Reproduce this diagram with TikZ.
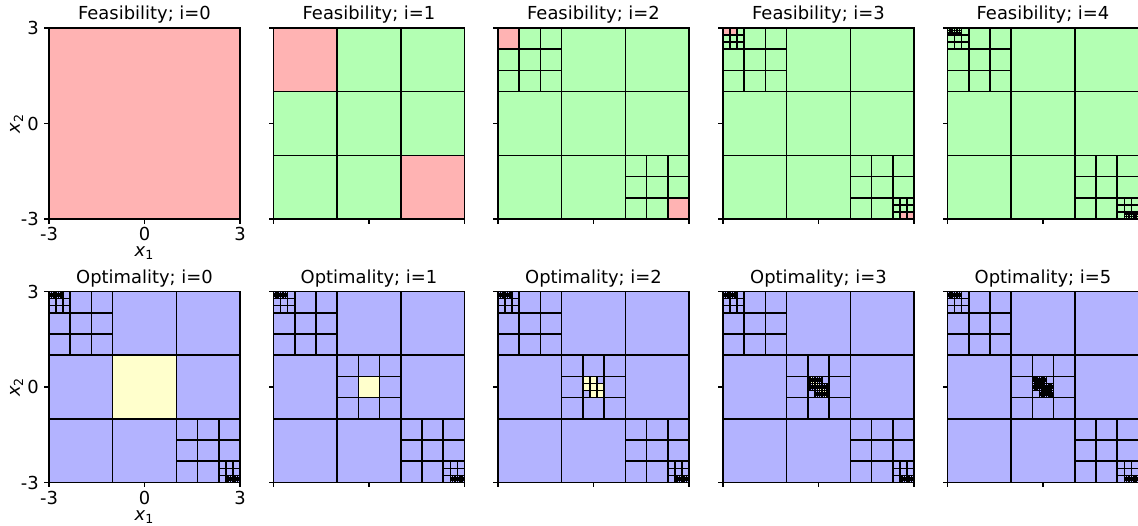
\documentclass[tikz,border=0pt]{standalone}
\usepackage{fontspec}
\setmainfont{DejaVu Sans}
\usepackage{tikz}

\definecolor{infeas}{HTML}{FFB3B3}
\definecolor{feas}{HTML}{B3FFB3}
\definecolor{subopt}{HTML}{B3B3FF}
\definecolor{cand}{HTML}{FFFFCC}

% cell of level #1 (6/3^#1 wide) at column #2, row #3
\newcommand{\cellfill}[4]{%
  \pgfmathsetmacro{\cellw}{6/3^#1}%
  \fill[#4] ({-3+#2*\cellw},{-3+#3*\cellw}) rectangle ++(\cellw,\cellw);}
\newcommand{\cellsplit}[3]{%
  \pgfmathsetmacro{\cellw}{6/3^#1}%
  \pgfmathsetmacro{\cellx}{-3+#2*\cellw}%
  \pgfmathsetmacro{\celly}{-3+#3*\cellw}%
  \draw[gridline] ({\cellx+\cellw/3},\celly) -- ++(0,\cellw)
    ({\cellx+2*\cellw/3},\celly) -- ++(0,\cellw)
    (\cellx,{\celly+\cellw/3}) -- ++(\cellw,0)
    (\cellx,{\celly+2*\cellw/3}) -- ++(\cellw,0);}
% refinement of the two infeasible corners
\newcommand{\cornersplits}[1]{%
  \ifnum#1>0 \cellsplit{0}{0}{0}\fi
  \ifnum#1>1 \cellsplit{1}{0}{2}\cellsplit{1}{2}{0}\fi
  \ifnum#1>2 \cellsplit{2}{0}{8}\cellsplit{2}{8}{0}\fi
  \ifnum#1>3 \cellsplit{3}{0}{26}\cellsplit{3}{1}{26}\cellsplit{3}{25}{0}\cellsplit{3}{26}{0}\fi}
% level-4 cells along x1+x2=0 round the centre
\newcommand{\bandloop}[1]{%
  \foreach \dd in {-4,...,4}{\foreach \ee in {-1,0,1}{%
    \pgfmathtruncatemacro{\bi}{40+\dd}\pgfmathtruncatemacro{\bj}{40-\dd+\ee}%
    \ifnum\bj>35 \ifnum\bj<45 #1\fi\fi}}}
\newcommand{\paneldeco}[2]{%
  \draw[frame] (-3,-3) rectangle (3,3);
  \foreach \t in {-3,0,3}{\draw[tick] (\t,-3) -- ++(0,-0.15); \draw[tick] (-3,\t) -- ++(-0.15,0);}
  \node[ttl] (#1) at (0,3.26) {#2};}
\newcommand{\axislabels}[1]{%
  \foreach \t in {-3,0,3}{%
    \node[lbl, anchor=north] (#1x\t) at (\t,-3.26) {\t};
    \node[lbl, anchor=east] (#1y\t) at (-3.31,\t) {\t};}
  \node[lbl, anchor=north] (#1xa) at (0,-3.86) {\textit{x}\textsubscript{1}};
  \node[lbl, anchor=south, rotate=90] (#1ya) at (-3.80,0) {\textit{x}\textsubscript{2}};}

\begin{document}
\begin{tikzpicture}[x=0.02cm, y=0.02cm,
  panel/.style={shift={#1}, x=0.63667cm, y=0.63667cm},
  gridline/.style={line width=0.9pt, black},
  frame/.style={line width=0.9pt, black},
  tick/.style={line width=0.9pt, black},
  ttl/.style={anchor=base, inner sep=0pt, font=\fontsize{10.2}{12}\selectfont},
  lbl/.style={inner sep=0pt, font=\fontsize{10.2}{12}\selectfont}]

\useasboundingbox (0,0) rectangle (1138,525);

% feasibility row
\begin{scope}[panel={(144.5,401.5)}]
  \fill[infeas] (-3,-3) rectangle (3,3);
  \paneldeco{f0}{Feasibility; i=0}
  \axislabels{f0}
\end{scope}

\begin{scope}[panel={(369,401.5)}]
  \fill[feas] (-3,-3) rectangle (3,3);
  \cellfill{1}{0}{2}{infeas} \cellfill{1}{2}{0}{infeas}
  \cornersplits{1}
  \paneldeco{f1}{Feasibility; i=1}
\end{scope}

\begin{scope}[panel={(593.5,401.5)}]
  \fill[feas] (-3,-3) rectangle (3,3);
  \cellfill{2}{0}{8}{infeas} \cellfill{2}{8}{0}{infeas}
  \cornersplits{2}
  \paneldeco{f2}{Feasibility; i=2}
\end{scope}

\begin{scope}[panel={(818.5,401.5)}]
  \fill[feas] (-3,-3) rectangle (3,3);
  \foreach \i/\j in {0/26,1/26,25/0,26/0}{\cellfill{3}{\i}{\j}{infeas}}
  \cornersplits{3}
  \paneldeco{f3}{Feasibility; i=3}
\end{scope}

\begin{scope}[panel={(1043,401.5)}]
  \fill[feas] (-3,-3) rectangle (3,3);
  \cornersplits{4}
  \paneldeco{f4}{Feasibility; i=4}
\end{scope}

% optimality row
\begin{scope}[panel={(144.5,138)}]
  \fill[subopt] (-3,-3) rectangle (3,3);
  \cellfill{1}{1}{1}{cand}
  \cornersplits{4}
  \paneldeco{o0}{Optimality; i=0}
  \axislabels{o0}
\end{scope}

\begin{scope}[panel={(369,138)}]
  \fill[subopt] (-3,-3) rectangle (3,3);
  \cellfill{2}{4}{4}{cand}
  \cornersplits{4}
  \cellsplit{1}{1}{1}
  \paneldeco{o1}{Optimality; i=1}
\end{scope}

\begin{scope}[panel={(593.5,138)}]
  \fill[subopt] (-3,-3) rectangle (3,3);
  \foreach \i/\j in {12/14,13/14,12/13,13/13,14/13,13/12,14/12}{\cellfill{3}{\i}{\j}{cand}}
  \cornersplits{4}
  \cellsplit{1}{1}{1} \cellsplit{2}{4}{4}
  \paneldeco{o2}{Optimality; i=2}
\end{scope}

\begin{scope}[panel={(818.5,138)}]
  \fill[subopt] (-3,-3) rectangle (3,3);
  \bandloop{\cellfill{4}{\bi}{\bj}{cand}}
  \cornersplits{4}
  \cellsplit{1}{1}{1} \cellsplit{2}{4}{4}
  \foreach \i/\j in {12/14,13/14,12/13,13/13,14/13,13/12,14/12}{\cellsplit{3}{\i}{\j}}
  \paneldeco{o3}{Optimality; i=3}
\end{scope}

\begin{scope}[panel={(1043,138)}]
  \fill[subopt] (-3,-3) rectangle (3,3);
  \bandloop{\cellfill{4}{\bi}{\bj}{cand}}
  \cornersplits{4}
  \cellsplit{1}{1}{1} \cellsplit{2}{4}{4}
  \foreach \i/\j in {12/14,13/14,12/13,13/13,14/13,13/12,14/12}{\cellsplit{3}{\i}{\j}}
  \bandloop{\cellsplit{4}{\bi}{\bj}}
  \paneldeco{o5}{Optimality; i=5}
\end{scope}
\end{tikzpicture}
\end{document}
